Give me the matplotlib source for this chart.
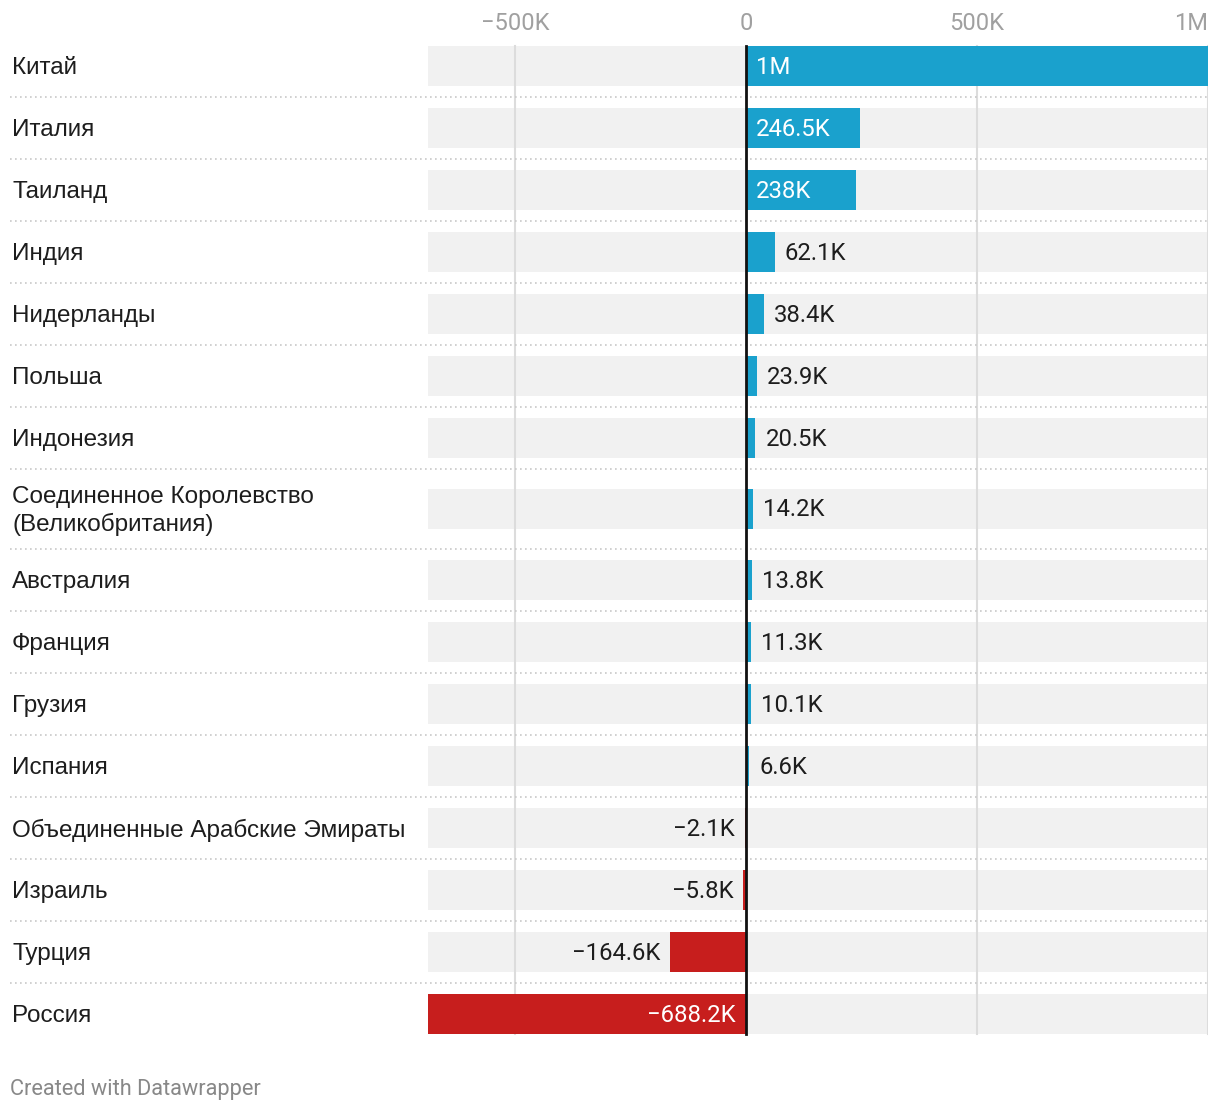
import matplotlib
matplotlib.use("Agg")
import matplotlib.pyplot as plt
from matplotlib.transforms import blended_transform_factory

countries = ["Китай", "Италия", "Таиланд", "Индия", "Нидерланды", "Польша",
             "Индонезия", "Соединенное Королевство\n(Великобритания)", "Австралия",
             "Франция", "Грузия", "Испания", "Объединенные Арабские Эмираты",
             "Израиль", "Турция", "Россия"]
values = [1000000, 246500, 238000, 62100, 38400, 23900, 20500, 14200, 13800,
          11300, 10100, 6600, -2100, -5800, -164600, -688200]
value_labels = ["1M", "246.5K", "238K", "62.1K", "38.4K", "23.9K", "20.5K", "14.2K",
                "13.8K", "11.3K", "10.1K", "6.6K", "−2.1K", "−5.8K", "−164.6K", "−688.2K"]
tick_values = [-500000, 0, 500000, 1000000]
tick_labels = ["−500K", "0", "500K", "1M"]

W, H = 1220, 1110
DPI = 100
fig = plt.figure(figsize=(W / DPI, H / DPI), dpi=DPI)
fig.patch.set_facecolor("white")

x0_px, x1_px = 428, 1208
ax = fig.add_axes([x0_px / W, 0, (x1_px - x0_px) / W, 1])
ax.set_xlim(min(values), max(values))
ax.set_ylim(H, 0)
ax.axis("off")

BLUE = "#1aa1cd"
RED = "#c71e1d"
BG = "#f1f1f1"
GRID = "#dcdcdc"
TXT = "#1d1d1d"

row_h1, row_h2 = 62, 80
bar_h = 40
top = 35
centers, bottoms = [], []
for c in countries:
    h = row_h2 if "\n" in c else row_h1
    centers.append(top + h / 2)
    bottoms.append(top + h)
    top += h

xmin, xmax = ax.get_xlim()
px_per_unit = (x1_px - x0_px) / (xmax - xmin)
fig_tr = blended_transform_factory(fig.transFigure, ax.transData)
dy = 2  # text baseline nudge in px

# background bars
for yc in centers:
    ax.barh(yc, xmax - xmin, left=xmin, height=bar_h, color=BG, zorder=1)

# gridlines
y_top = centers[0] - bar_h / 2
y_bot = centers[-1] + bar_h / 2
for tv in tick_values:
    if tv != 0:
        ax.plot([tv, tv], [y_top, y_bot], color=GRID, lw=1.5, zorder=2)

# separators
for b in bottoms[:-1]:
    ax.plot([10 / W, x1_px / W], [b, b], transform=fig_tr, color="#c8c8c8",
            lw=1.2, ls=(0, (1, 2)), zorder=2, clip_on=False)

# bars
for yc, v in zip(centers, values):
    ax.barh(yc, v, height=bar_h, color=BLUE if v >= 0 else RED, zorder=3)

# zero line
ax.plot([0, 0], [y_top, y_bot], color="#111111", lw=2, zorder=5)

# value labels
pad = 10 / px_per_unit
for yc, v, lab in zip(centers, values, value_labels):
    inside = abs(v) > 200000
    if v >= 0:
        x, ha = (pad, "left") if inside else (v + pad, "left")
    else:
        x, ha = (-pad, "right") if inside else (v - pad, "right")
    ax.text(x, yc + dy - (1 if "\n" in countries[centers.index(yc)] else 0), lab,
            ha=ha, va="center", color="white" if inside else TXT,
            fontsize=17.2, family="Roboto", zorder=6)

# country labels
for yc, c in zip(centers, countries):
    ax.text(12 / W, yc + dy, c, transform=fig_tr, ha="left", va="center",
            color=TXT, fontsize=17.5, family="Liberation Sans",
            linespacing=1.3, clip_on=False)

# tick labels
for tv, tl in zip(tick_values, tick_labels):
    ha = "right" if tv == xmax else "center"
    ax.text(tv, 22 + dy, tl, ha=ha, va="center", color="#a0a0a0", fontsize=17,
            family="Roboto", clip_on=False)

fig.text(10 / W, 1 - (1087 + dy) / H, "Created with Datawrapper", ha="left",
         va="center", color="#888888", fontsize=15.7, family="Roboto")

fig.savefig("out.png", dpi=DPI, facecolor="white")
